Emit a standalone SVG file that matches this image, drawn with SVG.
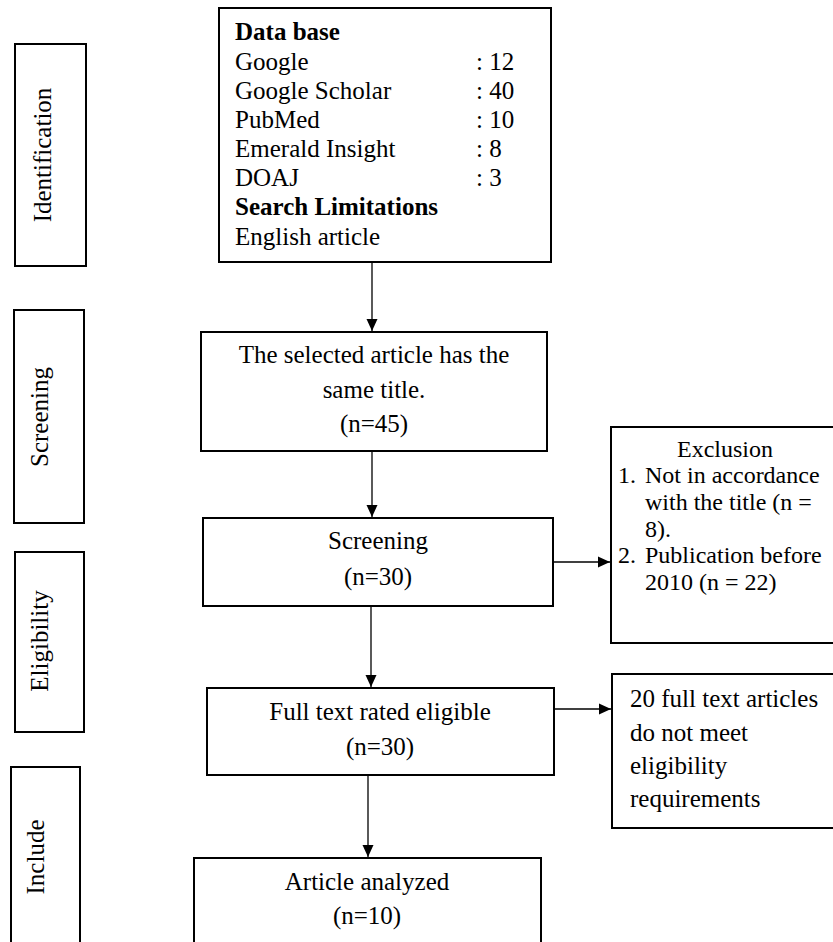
<svg xmlns="http://www.w3.org/2000/svg" width="833" height="942" viewBox="0 0 833 942">
  <style>
    .box { fill: #ffffff; stroke: #000000; stroke-width: 2; }
    .t { font-family: "Liberation Serif", "Times New Roman", serif; font-size: 25px; fill: #000000; }
    .s { font-family: "Liberation Serif", "Times New Roman", serif; font-size: 24px; fill: #000000; }
    .b { font-weight: bold; }
    .c { text-anchor: middle; }
    .conn { stroke: #000000; stroke-width: 1.3; fill: none; marker-end: url(#arrow); }
  </style>
  <defs>
    <marker id="arrow" markerUnits="userSpaceOnUse" markerWidth="14" markerHeight="14" viewBox="0 0 14 14" refX="12" refY="7" orient="auto">
      <path d="M0,1.5 L12,7 L0,12.5 Z" fill="#000000"/>
    </marker>
  </defs>
  <rect width="833" height="942" fill="#ffffff"/>

  <g id="stage-identification">
    <rect class="box" x="15" y="44" width="71" height="222"/>
    <text class="t c" transform="translate(51,155) rotate(-90)">Identification</text>
  </g>
  <g id="stage-screening">
    <rect class="box" x="14" y="310" width="70" height="213"/>
    <text class="t c" transform="translate(48,417) rotate(-90)">Screening</text>
  </g>
  <g id="stage-eligibility">
    <rect class="box" x="15" y="552" width="69" height="180"/>
    <text class="t c" transform="translate(48,641) rotate(-90)">Eligibility</text>
  </g>
  <g id="stage-include">
    <rect class="box" x="11" y="767" width="69" height="190"/>
    <text class="t c" transform="translate(44,857) rotate(-90)">Include</text>
  </g>

  <g id="node-database">
    <rect class="box" x="219" y="8" width="332" height="254"/>
    <text class="t b" x="235" y="40">Data base</text>
    <text class="t" x="235" y="70">Google</text>
    <text class="t" x="476" y="70">: 12</text>
    <text class="t" x="235" y="99">Google Scholar</text>
    <text class="t" x="476" y="99">: 40</text>
    <text class="t" x="235" y="128">PubMed</text>
    <text class="t" x="476" y="128">: 10</text>
    <text class="t" x="235" y="157">Emerald Insight</text>
    <text class="t" x="476" y="157">: 8</text>
    <text class="t" x="235" y="186">DOAJ</text>
    <text class="t" x="476" y="186">: 3</text>
    <text class="t b" x="235" y="215">Search Limitations</text>
    <text class="t" x="235" y="245">English article</text>
  </g>

  <g id="node-selected">
    <rect class="box" x="201" y="332" width="346" height="119"/>
    <text class="t c" x="374" y="363">The selected article has the</text>
    <text class="t c" x="374" y="398">same title.</text>
    <text class="t c" x="374" y="432">(n=45)</text>
  </g>

  <g id="node-screening">
    <rect class="box" x="203" y="518" width="350" height="88"/>
    <text class="t c" x="378" y="549">Screening</text>
    <text class="t c" x="378" y="585">(n=30)</text>
  </g>

  <g id="node-exclusion">
    <rect class="box" x="611" y="427" width="240" height="216"/>
    <text class="s c" x="725" y="457">Exclusion</text>
    <text class="s" x="618" y="483">1.</text>
    <text class="s" x="645" y="483">Not in accordance</text>
    <text class="s" x="645" y="510">with the title (n =</text>
    <text class="s" x="645" y="537">8).</text>
    <text class="s" x="618" y="563">2.</text>
    <text class="s" x="645" y="563">Publication before</text>
    <text class="s" x="645" y="590">2010 (n = 22)</text>
  </g>

  <g id="node-fulltext">
    <rect class="box" x="207" y="688" width="347" height="87"/>
    <text class="t c" x="380" y="720">Full text rated eligible</text>
    <text class="t c" x="380" y="755">(n=30)</text>
  </g>

  <g id="node-notmeet">
    <rect class="box" x="612" y="674" width="240" height="154"/>
    <text class="t" x="630" y="707">20 full text articles</text>
    <text class="t" x="630" y="741">do not meet</text>
    <text class="t" x="630" y="774">eligibility</text>
    <text class="t" x="630" y="807">requirements</text>
  </g>

  <g id="node-analyzed">
    <rect class="box" x="194" y="858" width="347" height="100"/>
    <text class="t c" x="367" y="890">Article analyzed</text>
    <text class="t c" x="367" y="924">(n=10)</text>
  </g>

  <g id="connectors">
    <line class="conn" x1="372" y1="262" x2="372" y2="331"/>
    <line class="conn" x1="372" y1="451" x2="372" y2="517"/>
    <line class="conn" x1="553" y1="562" x2="610" y2="562"/>
    <line class="conn" x1="371" y1="606" x2="371" y2="687"/>
    <line class="conn" x1="554" y1="709" x2="611" y2="709"/>
    <line class="conn" x1="368" y1="775" x2="368" y2="857"/>
  </g>
</svg>
